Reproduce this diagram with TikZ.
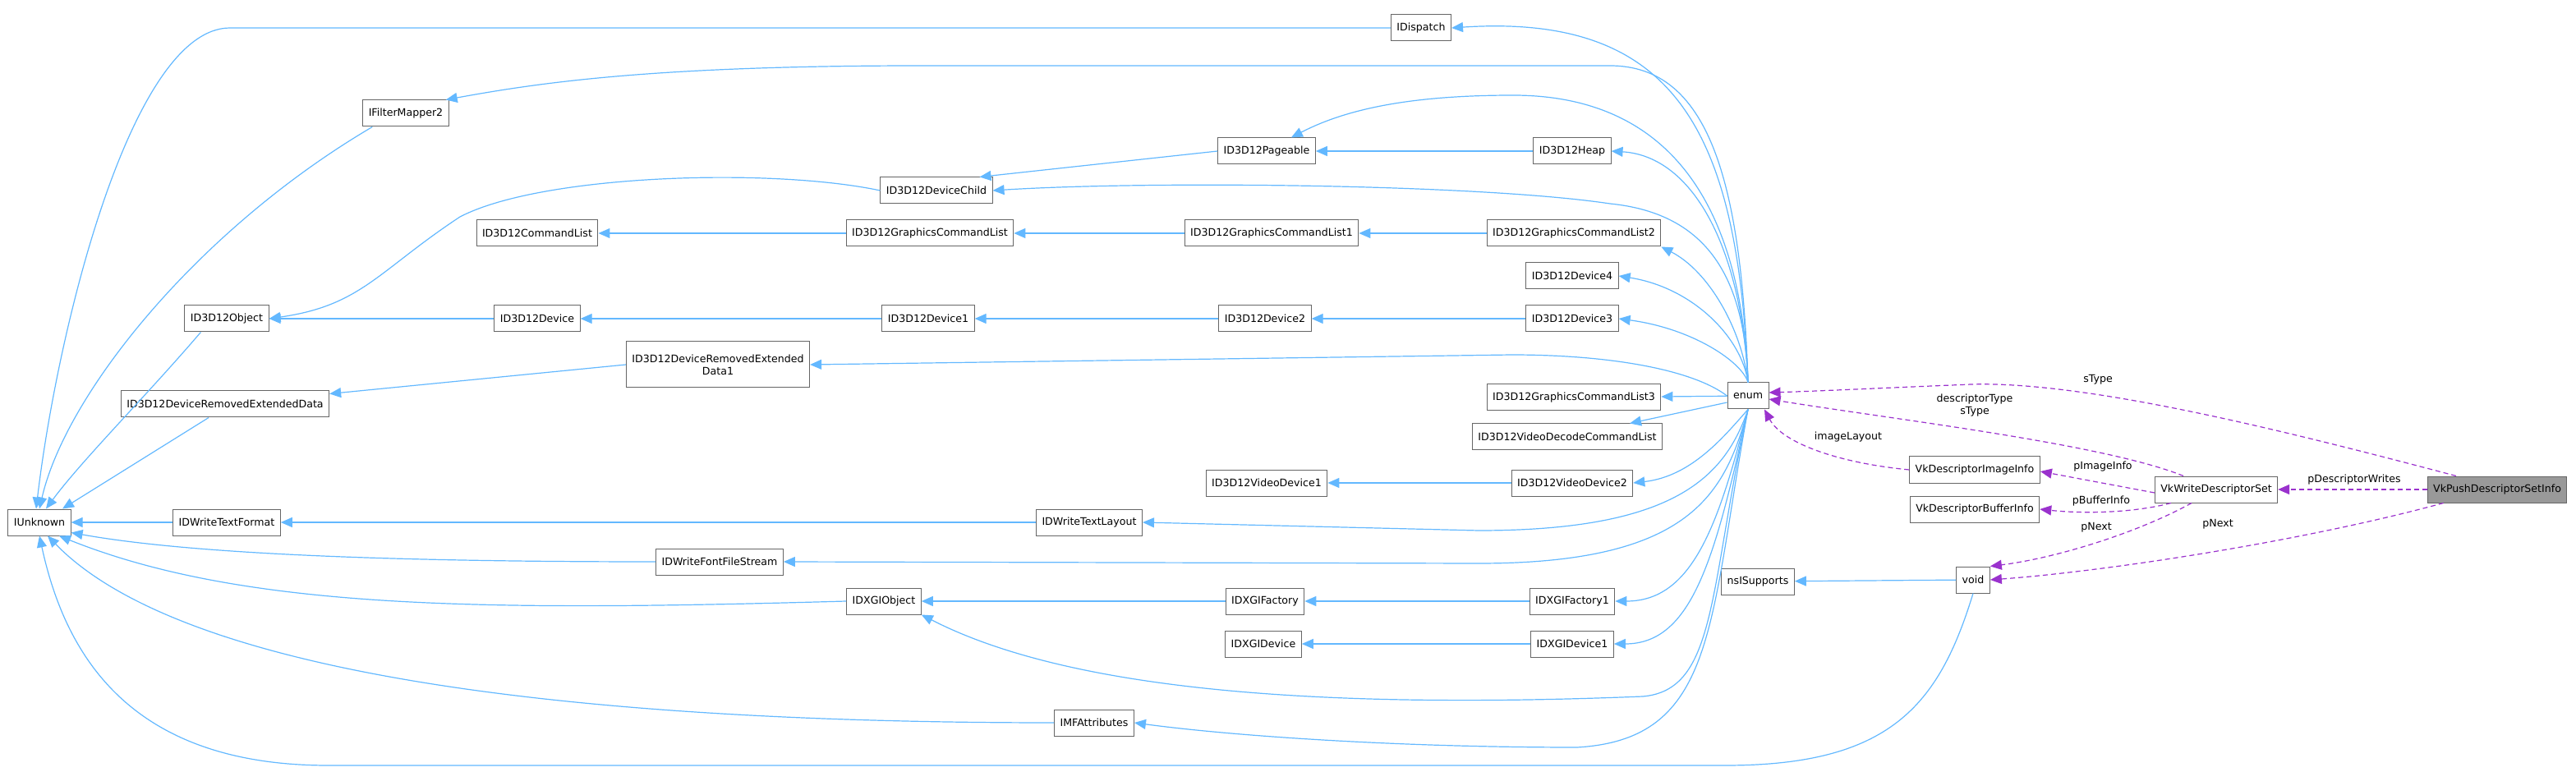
\documentclass[tikz,border=0pt]{standalone}
\usepackage{fontspec}
\setmainfont{DejaVu Sans}
\usetikzlibrary{arrows.meta}
\definecolor{inhcol}{RGB}{99,184,255}
\definecolor{usecol}{RGB}{154,50,205}
\definecolor{boxcol}{RGB}{102,102,102}
\tikzset{
  cls/.style={draw=boxcol,fill=white,line width=0.5pt,font=\fontsize{6.3}{7.5}\selectfont,
    inner xsep=3.5pt,inner ysep=0pt,minimum height=16pt,align=center},
  inh/.style={draw=inhcol,line width=0.6pt,-{Triangle[width=6pt,length=7pt]}},
  use/.style={draw=usecol,line width=0.6pt,dash pattern=on 3pt off 2pt,-{Triangle[width=6pt,length=7pt]}},
  lbl/.style={font=\fontsize{6.3}{7.5}\selectfont,inner sep=0pt,align=center}
}
\begin{document}
\begin{tikzpicture}[x=1pt,y=1pt]
\useasboundingbox (0,0) rectangle (1568,-470);
% classes
\node[cls] (IDispatch) at (865,-17) {IDispatch};
\node[cls] (IFilterMapper2) at (247,-69) {IFilterMapper2};
\node[cls] (ID3D12Pageable) at (771,-92) {ID3D12Pageable};
\node[cls] (ID3D12Heap) at (957,-92) {ID3D12Heap};
\node[cls] (ID3D12DeviceChild) at (570,-116) {ID3D12DeviceChild};
\node[cls] (ID3D12CommandList) at (327,-142) {ID3D12CommandList};
\node[cls] (ID3D12GCL) at (566,-142) {ID3D12GraphicsCommandList};
\node[cls] (ID3D12GCL1) at (774,-142) {ID3D12GraphicsCommandList1};
\node[cls] (ID3D12GCL2) at (958,-142) {ID3D12GraphicsCommandList2};
\node[cls] (ID3D12Device4) at (957,-168) {ID3D12Device4};
\node[cls] (ID3D12Object) at (138,-194) {ID3D12Object};
\node[cls] (ID3D12Device) at (327,-194) {ID3D12Device};
\node[cls] (ID3D12Device1) at (565,-194) {ID3D12Device1};
\node[cls] (ID3D12Device2) at (770,-194) {ID3D12Device2};
\node[cls] (ID3D12Device3) at (957,-194) {ID3D12Device3};
\node[cls,minimum height=28pt] (ID3D12DRED1) at (437,-222) {ID3D12DeviceRemovedExtended\\Data1};
\node[cls] (ID3D12DRED) at (137,-246) {ID3D12DeviceRemovedExtendedData};
\node[cls] (ID3D12GCL3) at (958,-242) {ID3D12GraphicsCommandList3};
\node[cls] (enum) at (1064,-241) {enum};
\node[cls] (ID3D12VideoDecode) at (954,-266) {ID3D12VideoDecodeCommandList};
\node[cls] (ID3D12VideoDevice1) at (771,-294) {ID3D12VideoDevice1};
\node[cls] (ID3D12VideoDevice2) at (957,-294) {ID3D12VideoDevice2};
\node[cls] (IUnknown) at (24,-318) {IUnknown};
\node[cls] (IDWriteTextFormat) at (138,-318) {IDWriteTextFormat};
\node[cls] (IDWriteTextLayout) at (663,-318) {IDWriteTextLayout};
\node[cls] (IDWriteFontFileStream) at (438,-342) {IDWriteFontFileStream};
\node[cls] (IDXGIObject) at (538,-366) {IDXGIObject};
\node[cls] (IDXGIFactory) at (770,-366) {IDXGIFactory};
\node[cls] (IDXGIFactory1) at (957,-366) {IDXGIFactory1};
\node[cls] (IDXGIDevice) at (769,-392) {IDXGIDevice};
\node[cls] (IDXGIDevice1) at (957,-392) {IDXGIDevice1};
\node[cls] (IMFAttributes) at (666,-440) {IMFAttributes};
\node[cls] (nsISupports) at (1070,-354) {nsISupports};
\node[cls] (void) at (1201,-353) {void};
\node[cls] (VkDescImageInfo) at (1202,-286) {VkDescriptorImageInfo};
\node[cls] (VkDescBufferInfo) at (1202,-310) {VkDescriptorBufferInfo};
\node[cls] (VkWriteDescSet) at (1349,-298) {VkWriteDescriptorSet};
\node[cls,fill=black!40] (VkPushDescSetInfo) at (1520,-298) {VkPushDescriptorSetInfo};

% inheritance into IUnknown
\draw[inh] (IDispatch.west) -- (140,-17) .. controls (80,-17) and (35,-200) .. ([xshift=-2pt]IUnknown.north);
\draw[inh] ([xshift=6pt]IFilterMapper2.south west) .. controls (120,-140) and (40,-240) .. ([xshift=0pt]IUnknown.north);
\draw[inh] ([xshift=10pt]ID3D12Object.south west) .. controls (90,-240) and (50,-280) .. ([xshift=4pt]IUnknown.north);
\draw[inh] ([xshift=-10pt]ID3D12DRED.south) -- ([xshift=14pt]IUnknown.north);
\draw[inh] (IDWriteTextFormat) -- (IUnknown);
\draw[inh] (IDWriteFontFileStream.west) .. controls (250,-342) and (120,-338) .. ([yshift=2pt]IUnknown.south east);
\draw[inh] (IDXGIObject.west) .. controls (300,-372) and (150,-372) .. ([xshift=12pt]IUnknown.south);
\draw[inh] (IMFAttributes.west) .. controls (400,-440) and (120,-420) .. ([xshift=5pt]IUnknown.south);
\draw[inh] (void.south) .. controls (1180,-430) and (1150,-466) .. (1050,-466) -- (200,-466) .. controls (80,-466) and (40,-400) .. (IUnknown.south);
% chains
\draw[inh] (ID3D12Pageable.west) -- ([xshift=-8pt]ID3D12DeviceChild.north east);
\draw[inh] (ID3D12Heap) -- (ID3D12Pageable);
\draw[inh] (ID3D12DeviceChild.west) .. controls (470,-102) and (330,-106) .. (280,-132) .. controls (230,-165) and (220,-186) .. (ID3D12Object.east);
\draw[inh] (ID3D12Device) -- (ID3D12Object);
\draw[inh] (ID3D12Device1) -- (ID3D12Device);
\draw[inh] (ID3D12Device2) -- (ID3D12Device1);
\draw[inh] (ID3D12Device3) -- (ID3D12Device2);
\draw[inh] (ID3D12GCL) -- (ID3D12CommandList);
\draw[inh] (ID3D12GCL1) -- (ID3D12GCL);
\draw[inh] (ID3D12GCL2) -- (ID3D12GCL1);
\draw[inh] (ID3D12DRED1.west) -- ([yshift=-2pt]ID3D12DRED.north east);
\draw[inh] (ID3D12VideoDevice2) -- (ID3D12VideoDevice1);
\draw[inh] (IDWriteTextLayout) -- (IDWriteTextFormat);
\draw[inh] (IDXGIFactory) -- (IDXGIObject);
\draw[inh] (IDXGIFactory1) -- (IDXGIFactory);
\draw[inh] (IDXGIDevice1) -- (IDXGIDevice);
\draw[inh] (void) -- (nsISupports);
% from enum
\draw[inh] (enum.north) .. controls (1058,-80) and (1020,-8) .. (IDispatch.east);
\draw[inh] (enum.north) .. controls (1060,-110) and (1040,-40) .. (980,-40) -- (560,-40) .. controls (400,-40) and (330,-50) .. ([xshift=-2pt]IFilterMapper2.north east);
\draw[inh] (enum.north) .. controls (1060,-130) and (1020,-58) .. (921,-58) .. controls (860,-58) and (820,-66) .. ([xshift=-15pt]ID3D12Pageable.north east);
\draw[inh] (enum.north) .. controls (1060,-150) and (1030,-95) .. (ID3D12Heap.east);
\draw[inh] (enum.north) .. controls (1062,-170) and (1040,-130) .. (980,-124) .. controls (900,-112) and (700,-110) .. (ID3D12DeviceChild.east);
\draw[inh] (enum.north) .. controls (1060,-200) and (1040,-165) .. (ID3D12GCL2.south east);
\draw[inh] (enum.north) .. controls (1060,-205) and (1030,-175) .. (ID3D12Device4.east);
\draw[inh] (enum.north) .. controls (1060,-220) and (1030,-200) .. (ID3D12Device3.east);
\draw[inh] (enum.west) .. controls (1030,-225) and (980,-216) .. (920,-216) -- (ID3D12DRED1.east);
\draw[inh] (enum) -- (ID3D12GCL3);
\draw[inh] ([yshift=-4pt]enum.west) -- ([xshift=38pt]ID3D12VideoDecode.north);
\draw[inh] (enum.south) .. controls (1050,-265) and (1030,-290) .. (ID3D12VideoDevice2.east);
\draw[inh] (enum.south) .. controls (1050,-290) and (1020,-323) .. (900,-323) -- (IDWriteTextLayout.east);
\draw[inh] (enum.south) .. controls (1050,-300) and (1030,-343) .. (900,-343) -- (IDWriteFontFileStream.east);
\draw[inh] (enum.south) .. controls (1046,-320) and (1030,-366) .. (IDXGIFactory1.east);
\draw[inh] (enum.south) .. controls (1044,-340) and (1030,-392) .. (IDXGIDevice1.east);
\draw[inh] (enum.south) .. controls (1040,-360) and (1045,-420) .. (1000,-424) .. controls (800,-432) and (650,-420) .. (IDXGIObject.south east);
\draw[inh] (enum.south) .. controls (1040,-380) and (1045,-450) .. (960,-455) .. controls (850,-455) and (750,-448) .. (IMFAttributes.east);

% members
\draw[use] ([xshift=-25pt]VkPushDescSetInfo.north) .. controls (1390,-262) and (1270,-232) .. (1200,-234) .. controls (1150,-236) and (1110,-238) .. ([yshift=2pt]enum.east);
\node[lbl] (lSType) at (1277,-231) {sType};
\draw[use] ([xshift=-20pt]VkWriteDescSet.north) .. controls (1280,-270) and (1150,-255) .. ([yshift=-2pt]enum.east);
\node[lbl] (lDescType) at (1202,-247) {descriptorType\\sType};
\draw[use] (VkDescImageInfo.west) .. controls (1120,-282) and (1085,-270) .. ([xshift=10pt]enum.south);
\node[lbl] (lImageLayout) at (1125,-266) {imageLayout};
\draw[use] ([yshift=-2pt]VkWriteDescSet.west) -- ([yshift=-1pt]VkDescImageInfo.east);
\node[lbl] (lImageInfo) at (1280,-284) {pImageInfo};
\draw[use] ([xshift=10pt]VkWriteDescSet.south west) .. controls (1300,-312) and (1270,-313) .. (VkDescBufferInfo.east);
\node[lbl] (lBufferInfo) at (1279,-305) {pBufferInfo};
\draw[use] ([xshift=-15pt]VkWriteDescSet.south) .. controls (1300,-325) and (1250,-340) .. (void.north east);
\node[lbl] (lNextA) at (1276,-321) {pNext};
\draw[use] ([xshift=10pt]VkPushDescSetInfo.south west) .. controls (1400,-330) and (1280,-348) .. (void.east);
\node[lbl] (lNextB) at (1350,-319) {pNext};
\draw[use] (VkPushDescSetInfo) -- (VkWriteDescSet);
\node[lbl] (lWrites) at (1433,-292) {pDescriptorWrites};
\end{tikzpicture}
\end{document}
